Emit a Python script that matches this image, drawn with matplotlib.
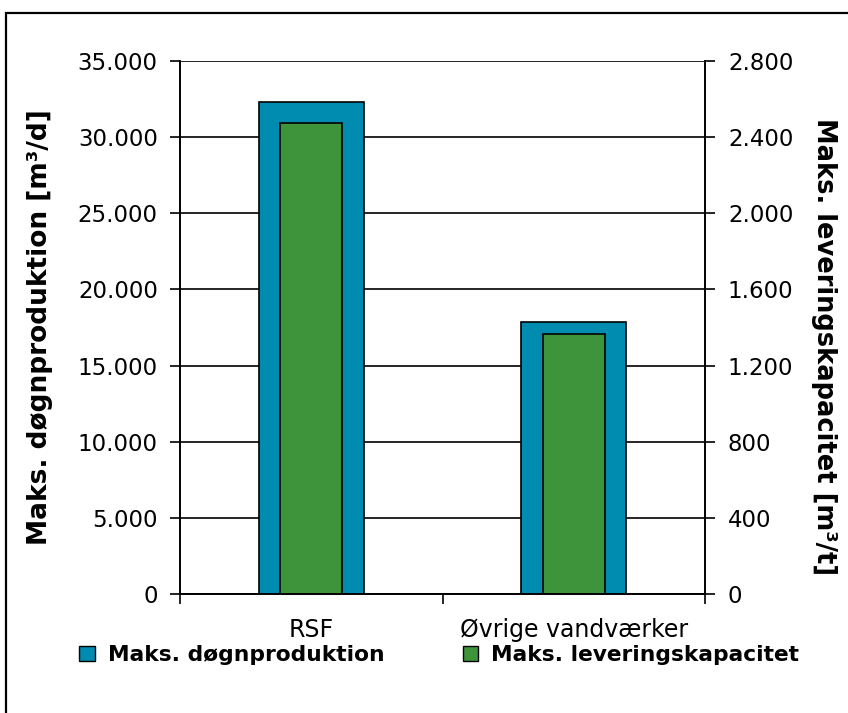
import matplotlib
matplotlib.use("Agg")
import matplotlib.pyplot as plt
from matplotlib.patches import Rectangle, Patch
from matplotlib.ticker import FuncFormatter, FixedLocator

categories = ["RSF", "Øvrige vandværker"]
dogn = [32300, 17850]          # Maks. døgnproduktion [m3/d] (left axis)
lever = [2475, 1365]           # Maks. leveringskapacitet [m3/t] (right axis)
left_ticks = list(range(0, 35001, 5000))
right_ticks = list(range(0, 2801, 400))

blue = "#008BB0"
green = "#3E943A"

plt.rcParams['font.family'] = ['DejaVu Sans']
fig = plt.figure(figsize=(8.48, 7.13), dpi=100)
ax = fig.add_axes([180/848, 1-594/713, 525/848, 533/713])
ax2 = ax.twinx()

x = list(range(len(categories)))
ax.bar(x, dogn, width=0.40, color=blue, edgecolor="black", linewidth=1.2, zorder=2,
       label="Maks. døgnproduktion")
ax2.bar(x, lever, width=0.235, color=green, edgecolor="black", linewidth=1.2, zorder=2,
        label="Maks. leveringskapacitet")

fmt = FuncFormatter(lambda v, p: f"{int(v):,}".replace(",", "."))
ax.set_ylim(0, 35000)
ax.set_yticks(left_ticks)
ax.yaxis.set_major_formatter(fmt)
ax2.set_ylim(0, 2800)
ax2.set_yticks(right_ticks)
ax2.yaxis.set_major_formatter(fmt)

ax.set_xlim(-0.5, 1.5)
ax.set_xticks([-0.5, 0.5, 1.5])
ax.set_xticklabels([])
ax.xaxis.set_minor_locator(FixedLocator(x))
ax.set_xticklabels(categories, minor=True)
ax.tick_params(axis="x", which="minor", length=0, pad=17, labelsize=17)
ax.tick_params(axis="x", which="major", length=7, width=1.2, direction="out")

ax.yaxis.grid(True, color="black", linewidth=1.2)
ax.set_axisbelow(True)
ax.tick_params(axis="y", length=7, width=1.2, labelsize=16.5, pad=9)
ax2.tick_params(axis="y", length=7, width=1.2, labelsize=16.5, pad=9.5)

for a in (ax, ax2):
    a.spines["top"].set_visible(False)
    for s in ("left", "right", "bottom"):
        a.spines[s].set_linewidth(1.2)

fig.text(0.047, 1-327/713, "Maks. døgnproduktion [m³/d]", rotation=90, fontsize=19,
         fontweight="bold", ha="center", va="center")
fig.text(0.972, 1-347/713, "Maks. leveringskapacitet [m³/t]", rotation=-90, fontsize=18.5,
         fontweight="bold", ha="center", va="center")

handles = [Patch(facecolor=blue, edgecolor="black", linewidth=1.0),
           Patch(facecolor=green, edgecolor="black", linewidth=1.0)]
fig.legend(handles, ["Maks. døgnproduktion", "Maks. leveringskapacitet"], ncol=2,
           loc="center", bbox_to_anchor=(0.518, 1-655/713), frameon=False,
           prop={"weight": "bold", "size": 15.7}, handlelength=0.7, handleheight=0.7,
           handletextpad=0.6, columnspacing=3.6)

fig.patches.append(Rectangle((6/848, -0.1), 1.2, 1-13/713+0.1, transform=fig.transFigure,
                             fill=False, edgecolor="black", linewidth=1.6))

fig.savefig("out.png", dpi=100)
